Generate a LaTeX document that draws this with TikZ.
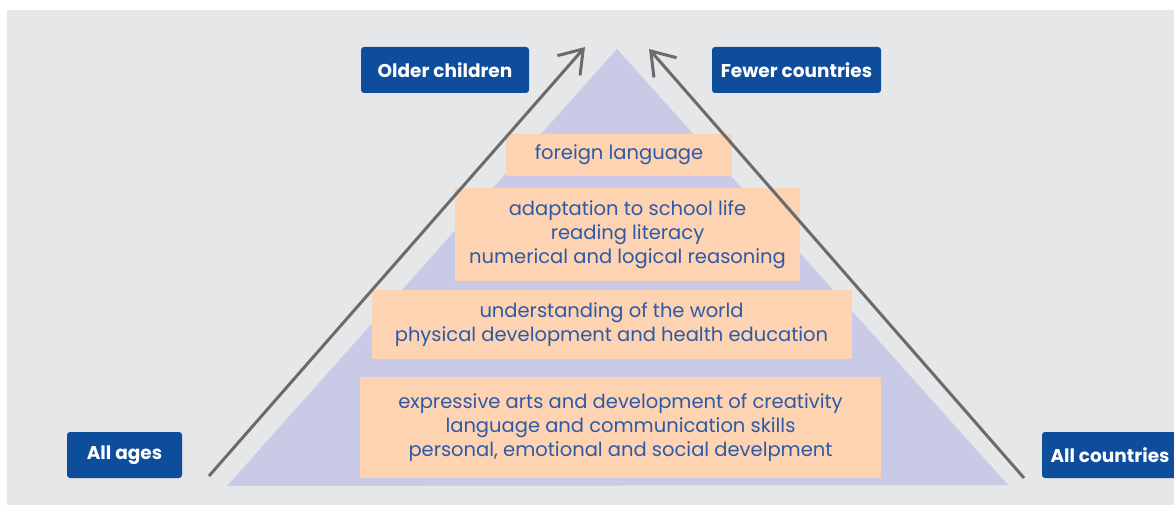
\documentclass[tikz,border=0pt]{standalone}
\usepackage{fontspec}
\setmainfont{Poppins}
\usetikzlibrary{arrows.meta}
\definecolor{panelgrey}{HTML}{E6E7E9}
\definecolor{pyramid}{HTML}{C9CAE6}
\definecolor{tierfill}{HTML}{FDD3B2}
\definecolor{tiertext}{HTML}{2E5AA5}
\definecolor{tagblue}{HTML}{0E4D9C}
\definecolor{arrowgrey}{HTML}{6B6B6B}
\tikzset{
  tier/.style={fill=tierfill, text=tiertext, align=center, inner sep=0pt,
    font=\fontsize{19.5}{24}\selectfont},
  tag/.style={fill=tagblue, text=white, inner sep=0pt, rounded corners=3pt,
    minimum height=46pt, font=\bfseries\fontsize{18.5}{20}\selectfont},
  trend/.style={draw=arrowgrey, line width=3pt,
    -{Straight Barb[length=22pt,width=30pt,line width=3pt]}}
}
\begin{document}
\begin{tikzpicture}[x=1pt, y=-1pt]
  % panel
  \clip (0,0) rectangle (1174,505);
  \fill[white] (0,0) rectangle (1174,505);
  \fill[panelgrey] (7,10) rectangle (1174,505);
  % pyramid
  \fill[pyramid] (227,486) -- (617,49) -- (1008,485) -- cycle;
  % tiers, top to bottom
  \node[tier, minimum width=226pt, minimum height=42pt] (t1) at (619,155) {foreign language};
  \node[tier, minimum width=345pt, minimum height=93pt] (t2) at (627.5,234.5)
    {adaptation to school life\\reading literacy\\numerical and logical reasoning};
  \node[tier, minimum width=480pt, minimum height=69pt] (t3) at (611.5,324.5)
    {understanding of the world\\physical development and health education};
  \node[tier, minimum width=521pt, minimum height=101pt] (t4) at (620.5,427.5)
    {expressive arts and development of creativity\\language and communication skills\\personal, emotional and social develpment};
  % labels
  \node[tag, minimum width=168pt] (older) at (445,70) {Older children};
  \node[tag, minimum width=169pt] (fewer) at (796.5,70) {Fewer countries};
  \node[tag, minimum width=115pt] (ages) at (124.5,455) {All ages};
  \node[tag, minimum width=136pt] (countries) at (1110,455) {All countries};
  % trend arrows
  \coordinate (agesfoot) at (209,476);
  \coordinate (agestip) at (585,47);
  \coordinate (countriesfoot) at (1024,478);
  \coordinate (countriestip) at (649,49);
  \draw[trend] (agesfoot) -- (agestip);
  \draw[trend] (countriesfoot) -- (countriestip);
\end{tikzpicture}
\end{document}
